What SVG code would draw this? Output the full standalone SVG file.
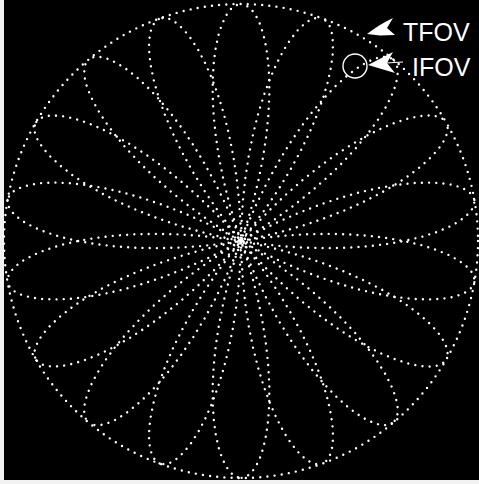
<svg xmlns="http://www.w3.org/2000/svg" width="479" height="484" viewBox="0 0 479 484">
<style>
.dot{fill:none;stroke:#ffffff;stroke-width:2.4;stroke-linecap:round;stroke-dasharray:0 7.2}
.lbl{font-family:"Liberation Sans",Arial,sans-serif;font-size:25px;fill:#ffffff}
</style>
<defs>
<path id="petal" d="M237,0 L235.76,5.07 L232.07,9.99 L225.94,14.59 L217.48,18.75 L206.79,22.32 L193.98,25.16 L179.22,27.18 L162.68,28.26 L144.57,28.33 L125.1,27.32 L104.51,25.19 L83.04,21.91 L60.94,17.49 L38.47,11.94 L15.9,5.31 L0,0 L15.9,-5.31 L38.47,-11.94 L60.94,-17.49 L83.04,-21.91 L104.51,-25.19 L125.1,-27.32 L144.57,-28.33 L162.68,-28.26 L179.22,-27.18 L193.98,-25.16 L206.79,-22.32 L217.48,-18.75 L225.94,-14.59 L232.07,-9.99 L235.76,-5.07 Z"/>
</defs>
<rect x="0" y="0" width="479" height="484" fill="#f2f2f2"/>
<rect x="4" y="0" width="475" height="480" fill="#000000"/>
<g id="scan" transform="translate(241,241)">
<circle class="dot" cx="0" cy="0" r="237"/>
<use href="#petal" class="dot" style="stroke-dashoffset:0" transform="rotate(10)"/>
<use href="#petal" class="dot" style="stroke-dashoffset:2.8" transform="rotate(30)"/>
<use href="#petal" class="dot" style="stroke-dashoffset:5.6" transform="rotate(50)"/>
<use href="#petal" class="dot" style="stroke-dashoffset:1.2" transform="rotate(70)"/>
<use href="#petal" class="dot" style="stroke-dashoffset:4.0" transform="rotate(90)"/>
<use href="#petal" class="dot" style="stroke-dashoffset:6.8" transform="rotate(110)"/>
<use href="#petal" class="dot" style="stroke-dashoffset:2.4" transform="rotate(130)"/>
<use href="#petal" class="dot" style="stroke-dashoffset:5.2" transform="rotate(150)"/>
<use href="#petal" class="dot" style="stroke-dashoffset:0.8" transform="rotate(170)"/>
<use href="#petal" class="dot" style="stroke-dashoffset:3.6" transform="rotate(190)"/>
<use href="#petal" class="dot" style="stroke-dashoffset:6.4" transform="rotate(210)"/>
<use href="#petal" class="dot" style="stroke-dashoffset:2.0" transform="rotate(230)"/>
<use href="#petal" class="dot" style="stroke-dashoffset:4.8" transform="rotate(250)"/>
<use href="#petal" class="dot" style="stroke-dashoffset:0.4" transform="rotate(270)"/>
<use href="#petal" class="dot" style="stroke-dashoffset:3.2" transform="rotate(290)"/>
<use href="#petal" class="dot" style="stroke-dashoffset:6.0" transform="rotate(310)"/>
<use href="#petal" class="dot" style="stroke-dashoffset:1.6" transform="rotate(330)"/>
<use href="#petal" class="dot" style="stroke-dashoffset:4.4" transform="rotate(350)"/>
</g>
<g id="ifov-circle">
<circle cx="355" cy="66" r="12" fill="none" stroke="#ffffff" stroke-width="1.4"/>
</g>
<g id="connectors">
<path d="M367,34 Q380,24 393,18 L387,28 L395,35 L380,35.5 Z" fill="#ffffff"/>
<path d="M368,65 L393,52 L387,63 L395,73 Z" fill="#ffffff"/>
<line x1="386" y1="63" x2="403" y2="62" stroke="#ffffff" stroke-width="1.2"/>
</g>
<g id="labels">
<text class="lbl" x="403" y="41">TFOV</text>
<text class="lbl" x="412" y="76">IFOV</text>
</g>
</svg>
